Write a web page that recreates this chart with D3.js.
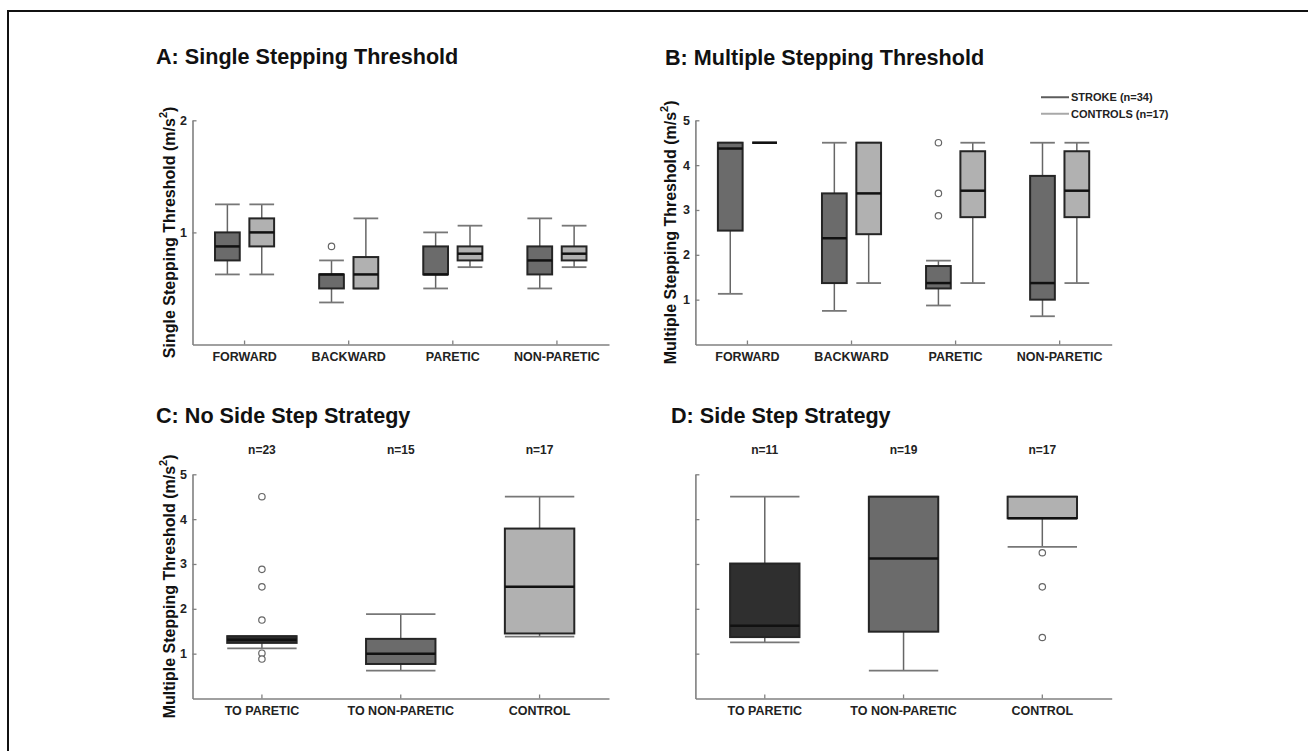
<!DOCTYPE html>
<html>
<head>
<meta charset="utf-8">
<script src="https://cdn.jsdelivr.net/npm/d3@7"></script>
<style>
  body { margin: 0; background: #fff; }
  svg { display: block; }
  text { font-family: "Liberation Sans", Arial, sans-serif; }
</style>
</head>
<body>
<svg id="chart"></svg>
<script>
// ---- data ----
// box stats are [low whisker, q1, median, q3, high whisker]
const directions = ['FORWARD', 'BACKWARD', 'PARETIC', 'NON-PARETIC']
const groups = ['STROKE (n=34)', 'CONTROLS (n=17)']

const singleStroke = [[0.625, 0.75, 0.875, 1.0, 1.25], [0.375, 0.5, 0.625, 0.625, 0.75], [0.5, 0.625, 0.625, 0.875, 1.0], [0.5, 0.625, 0.75, 0.875, 1.125]]
const singleControl = [[0.625, 0.875, 1.0, 1.125, 1.25], [0.5, 0.5, 0.625, 0.78, 1.125], [0.69, 0.75, 0.81, 0.875, 1.06], [0.69, 0.75, 0.81, 0.875, 1.06]]
const singleStrokeOut = [[], [0.875], [], []]
const singleControlOut = [[], [], [], []]

const multiStroke = [[1.13, 2.54, 4.37, 4.5, 4.5], [0.75, 1.37, 2.37, 3.37, 4.5], [0.87, 1.25, 1.37, 1.75, 1.87], [0.63, 1.0, 1.37, 3.76, 4.5]]
const multiControl = [[4.5, 4.5, 4.5, 4.5, 4.5], [1.37, 2.46, 3.37, 4.5, 4.5], [1.37, 2.84, 3.43, 4.31, 4.5], [1.37, 2.84, 3.43, 4.31, 4.5]]
const multiStrokeOut = [[], [], [4.5, 3.37, 2.87], []]
const multiControlOut = [[], [], [], []]

const strategies = ['TO PARETIC', 'TO NON-PARETIC', 'CONTROL']
const noSideN = ['n=23', 'n=15', 'n=17']
const noSideStats = [[1.12, 1.24, 1.31, 1.39, 1.39], [0.62, 0.77, 1.0, 1.33, 1.88], [1.38, 1.45, 2.49, 3.79, 4.5]]
const noSideOut = [[4.5, 2.88, 2.49, 1.75, 1.01, 0.88], [], []]
const sideN = ['n=11', 'n=19', 'n=17']
const sideStats = [[1.25, 1.37, 1.62, 3.01, 4.5], [0.62, 1.49, 3.12, 4.5, 4.5], [3.38, 4.02, 4.02, 4.5, 4.5]]
const sideOut = [[], [], [3.25, 2.49, 1.36]]

// ---- styles ----
const groupFill = ['#6b6b6b', '#b1b1b1']
const strategyFill = ['#2f2f2f', '#6b6b6b', '#b1b1b1']
const axisColor = '#808080'

const width = 1308
const height = 751

const svg = d3.select('#chart')
  .attr('width', width)
  .attr('height', height)

svg.append('rect').attr('width', width).attr('height', height).attr('fill', '#fff')

// figure frame (only top and left edges visible)
svg.append('path')
  .attr('d', 'M8,' + height + 'V11H' + width)
  .attr('fill', 'none')
  .attr('stroke', '#111')
  .attr('stroke-width', 2)

function drawBox(g, cx, w, s, fill, y, outliers) {
  var lo = s[0], q1 = s[1], med = s[2], q3 = s[3], hi = s[4]
  var line = (x1, y1, x2, y2, color, sw) => g.append('line')
    .attr('x1', x1).attr('y1', y1).attr('x2', x2).attr('y2', y2)
    .attr('stroke', color).attr('stroke-width', sw)

  // whiskers
  if (hi > q3) line(cx, y(hi), cx, y(q3), '#666', 1.5)
  if (lo < q1) line(cx, y(q1), cx, y(lo), '#666', 1.5)
  line(cx - w / 2, y(hi), cx + w / 2, y(hi), '#777', 1.8)
  line(cx - w / 2, y(lo), cx + w / 2, y(lo), '#777', 1.8)

  g.append('rect')
    .attr('x', cx - w / 2)
    .attr('y', y(q3))
    .attr('width', w)
    .attr('height', y(q1) - y(q3))
    .attr('fill', fill)
    .attr('stroke', '#252525')
    .attr('stroke-width', 2)

  line(cx - w / 2, y(med), cx + w / 2, y(med), '#111', 2.5)

  g.selectAll(null)
    .data(outliers)
    .enter()
    .append('circle')
    .attr('cx', cx)
    .attr('cy', (d) => y(d))
    .attr('r', 3.2)
    .attr('fill', '#fff')
    .attr('stroke', '#666')
    .attr('stroke-width', 1.2)
}

function drawPanel(p) {
  var g = svg.append('g')

  var x = d3.scaleBand().domain(p.categories).range([p.left, p.right])
  var y = d3.scaleLinear().domain([0, p.yMax]).range([p.bottom, p.top])

  // title
  g.append('text')
    .attr('x', p.titleX)
    .attr('y', p.titleY)
    .style('font-size', '21.6px')
    .style('font-weight', 'bold')
    .attr('fill', '#111')
    .text(p.title)

  var xAxis = d3.axisBottom(x).tickSize(-4).tickSizeOuter(0).tickPadding(7.5)
  var yAxis = d3.axisLeft(y).tickValues(p.yTicks).tickSize(-4).tickSizeOuter(0).tickPadding(5.5)
    .tickFormat(p.yTickLabels ? d3.format('d') : '')

  var gx = g.append('g')
    .attr('transform', 'translate(0,' + p.bottom + ')')
    .call(xAxis)
  var gy = g.append('g')
    .attr('transform', 'translate(' + p.left + ',0)')
    .call(yAxis)

  ;[gx, gy].forEach((a) => {
    a.selectAll('.domain').attr('stroke', axisColor).attr('stroke-width', 1.6)
    a.selectAll('.tick line').attr('stroke', axisColor).attr('stroke-width', 1.3)
    a.selectAll('.tick text')
      .attr('fill', '#222')
      .style('font-size', '12.5px')
      .style('font-weight', 'bold')
      .style('font-family', '"Liberation Sans", Arial, sans-serif')
  })

  // y axis label
  if (p.yLabel) {
    var lab = g.append('text')
      .attr('transform', 'translate(' + p.yLabelX + ',' + ((p.top + p.bottom) / 2) + ') rotate(-90)')
      .attr('text-anchor', 'middle')
      .attr('dominant-baseline', 'central')
      .style('font-size', '16px')
      .style('font-weight', 'bold')
      .attr('fill', '#111')
    lab.append('tspan').text(p.yLabel + ' (m/s')
    lab.append('tspan').attr('baseline-shift', 'super').style('font-size', '11px').text('2')
    lab.append('tspan').text(')')
  }

  var bw = x.bandwidth()
  if (p.series) {
    var sub = d3.scaleBand().domain(d3.range(p.series.length)).range([-bw * 0.33, bw * 0.33])
    var boxW = sub.bandwidth() * 0.72
    p.series.forEach((stats, si) => {
      stats.forEach((s, ci) => {
        var cx = x(p.categories[ci]) + bw / 2 + sub(si) + sub.bandwidth() / 2
        drawBox(g, cx, boxW, s, groupFill[si], y, p.outliers[si][ci])
      })
    })
  } else {
    p.stats.forEach((s, ci) => {
      var cx = x(p.categories[ci]) + bw / 2
      drawBox(g, cx, bw * 0.5, s, strategyFill[ci], y, p.outliers[ci])
    })
    g.selectAll(null)
      .data(p.counts)
      .enter()
      .append('text')
      .attr('x', (d, i) => x(p.categories[i]) + bw / 2)
      .attr('y', p.countY)
      .attr('text-anchor', 'middle')
      .style('font-size', '12px')
      .style('font-weight', 'bold')
      .attr('fill', '#222')
      .text((d) => d)
  }
  return g
}

drawPanel({
  title: 'A: Single Stepping Threshold', titleX: 156, titleY: 64,
  categories: directions, left: 192.5, right: 609, top: 120.3, bottom: 344.5,
  yMax: 2, yTicks: [1, 2], yTickLabels: true,
  yLabel: 'Single Stepping Threshold', yLabelX: 169,
  series: [singleStroke, singleControl], outliers: [singleStrokeOut, singleControlOut]
})

drawPanel({
  title: 'B: Multiple Stepping Threshold', titleX: 665, titleY: 65,
  categories: directions, left: 695.4, right: 1111.7, top: 120.3, bottom: 344.5,
  yMax: 5, yTicks: [1, 2, 3, 4, 5], yTickLabels: true,
  yLabel: 'Multiple Stepping Threshold', yLabelX: 670,
  series: [multiStroke, multiControl], outliers: [multiStrokeOut, multiControlOut]
})

drawPanel({
  title: 'C: No Side Step Strategy', titleX: 156, titleY: 423,
  categories: strategies, left: 192.5, right: 609, top: 474.3, bottom: 698.5,
  yMax: 5, yTicks: [1, 2, 3, 4, 5], yTickLabels: true,
  yLabel: 'Multiple Stepping Threshold', yLabelX: 169,
  stats: noSideStats, outliers: noSideOut, counts: noSideN, countY: 454
})

drawPanel({
  title: 'D: Side Step Strategy', titleX: 671, titleY: 423,
  categories: strategies, left: 695.4, right: 1111.7, top: 474.3, bottom: 698.5,
  yMax: 5, yTicks: [1, 2, 3, 4, 5], yTickLabels: false,
  stats: sideStats, outliers: sideOut, counts: sideN, countY: 454
})

// legend for panel B
var legend = svg.append('g')
var legendY = d3.scaleBand().domain(groups).range([89, 122])
groups.forEach((name, i) => {
  var ly = legendY(name) + legendY.bandwidth() / 2
  legend.append('line')
    .attr('x1', 1041).attr('x2', 1069)
    .attr('y1', ly).attr('y2', ly)
    .attr('stroke', i === 0 ? '#5c5c5c' : '#a8a8a8')
    .attr('stroke-width', 2)
  legend.append('text')
    .attr('x', 1071)
    .attr('y', ly)
    .attr('dominant-baseline', 'central')
    .style('font-size', '11px')
    .style('font-weight', 'bold')
    .attr('fill', '#222')
    .text(name)
})
</script>
</body>
</html>
